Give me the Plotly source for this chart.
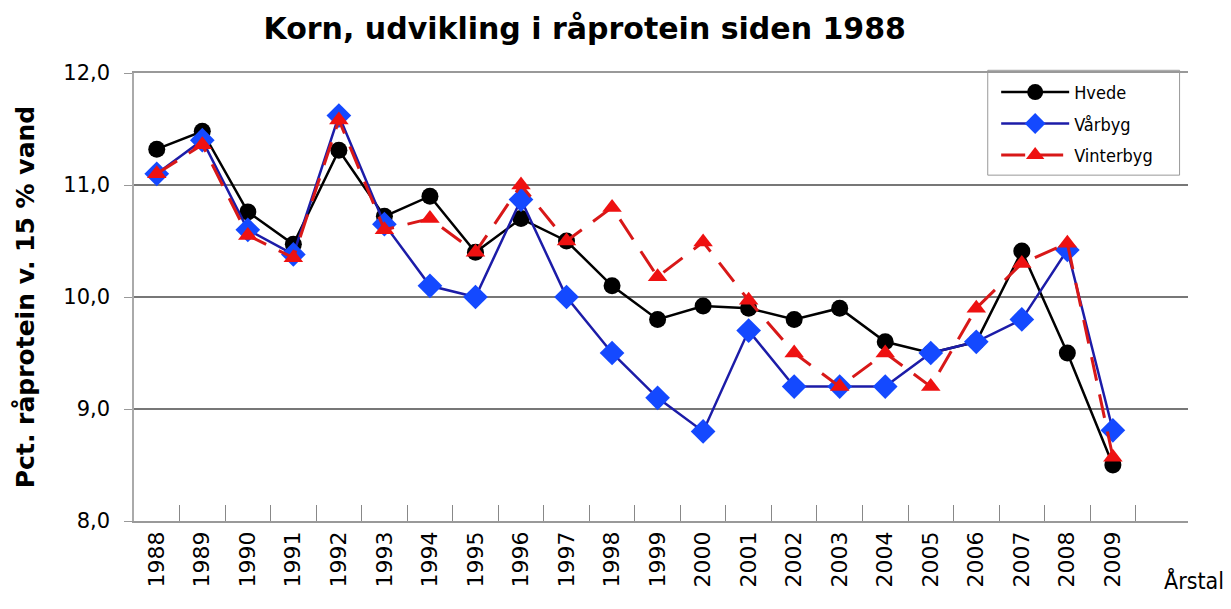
import plotly.graph_objects as go

years = [str(y) for y in range(1988, 2010)]
hvede = [11.32, 11.48, 10.76, 10.47, 11.31, 10.72, 10.9, 10.4, 10.7, 10.5, 10.1, 9.8,
         9.92, 9.9, 9.8, 9.9, 9.6, 9.5, 9.6, 10.41, 9.5, 8.5]
vaarbyg = [11.1, 11.4, 10.6, 10.38, 11.62, 10.65, 10.1, 10.0, 10.87, 10.0, 9.5, 9.1,
           8.8, 9.7, 9.2, 9.2, 9.2, 9.5, 9.6, 9.8, 10.42, 8.81]
vinterbyg = [11.1, 11.36, 10.55, 10.35, 11.58, 10.6, 10.7, 10.4, 11.0, 10.5, 10.8, 10.18,
             10.49, 9.97, 9.5, 9.2, 9.5, 9.2, 9.9, 10.3, 10.48, 8.57]
y_ticks = [8, 9, 10, 11, 12]
y_tick_labels = ["8,0", "9,0", "10,0", "11,0", "12,0"]

fig = go.Figure()
fig.add_trace(go.Scatter(
    x=years, y=hvede, name="Hvede", mode="lines+markers",
    line=dict(color="#000000", width=2.5),
    marker=dict(symbol="circle", size=17, color="#000000"),
    legendgroup="a"))
fig.add_trace(go.Scatter(
    x=years, y=vaarbyg, name="Vårbyg", mode="lines+markers",
    line=dict(color="#1c1ca8", width=2.5),
    marker=dict(symbol="diamond", size=19, color="#1449ff"),
    legendgroup="b"))
fig.add_trace(go.Scatter(
    x=years, y=vinterbyg, name="Vinterbyg", mode="lines+markers",
    line=dict(color="#d81818", width=3, dash="24px,14px"),
    marker=dict(symbol="triangle-up", size=17, color="#ee1111"),
    legendgroup="c"))

fig.update_layout(
    width=1231, height=609,
    margin=dict(l=134, r=43, t=73, b=88, autoexpand=False),
    paper_bgcolor="white", plot_bgcolor="white",
    title=dict(text="<b>Korn, udvikling i råprotein siden 1988</b>",
               x=0.475, xanchor="center", y=0.954, yanchor="middle",
               font=dict(family="DejaVu Sans", size=30, color="#000000")),
    font=dict(family="DejaVu Sans", color="#000000"),
    legend=dict(x=0.818, y=0.998, xanchor="left", yanchor="top",
                borderwidth=0, bgcolor="rgba(255,255,255,0)",
                font=dict(family="Liberation Sans Narrow, DejaVu Sans Condensed, Liberation Sans", size=18),
                tracegroupgap=5, itemwidth=68),
    showlegend=True,
    shapes=[dict(type="rect", xref="paper", yref="paper",
                 x0=0.810, x1=0.992, y0=0.772, y1=1.006,
                 line=dict(color="#999999", width=1), fillcolor="white", layer="below")],
)
fig.update_xaxes(
    type="category", range=[-0.5, 22.65], automargin=False,
    tickson="boundaries", ticks="inside", ticklen=16, tickcolor="#888888",
    tickangle=-90, tickfont=dict(family="DejaVu Sans", size=22, color="#000000"),
    showline=True, linecolor="#999999", linewidth=1.5, mirror=True,
    showgrid=False, zeroline=False,
)
fig.update_yaxes(
    range=[8, 12], tickvals=y_ticks, ticktext=y_tick_labels, automargin=False,
    ticks="outside", ticklen=8, tickcolor="#999999", ticklabelstandoff=10,
    tickfont=dict(family="DejaVu Sans", size=21, color="#000000"),
    showline=True, linecolor="#aaaaaa", linewidth=1.5,
    showgrid=True, gridcolor="#777777", gridwidth=1.5, zeroline=False,
    title=dict(text="<b>Pct. råprotein v. 15 % vand</b>",
               font=dict(family="DejaVu Sans", size=25), standoff=22),
)
fig.add_annotation(text="Årstal", xref="paper", yref="paper",
                   x=0.975, y=-0.132, xanchor="left", yanchor="middle",
                   showarrow=False,
                   font=dict(family="Liberation Sans Narrow, DejaVu Sans Condensed, Liberation Sans",
                             size=23, color="#000000"))

fig.write_html("out.html", config={"displayModeBar": False},
               post_script="document.body.style.margin='0px';document.body.style.padding='0px';")
